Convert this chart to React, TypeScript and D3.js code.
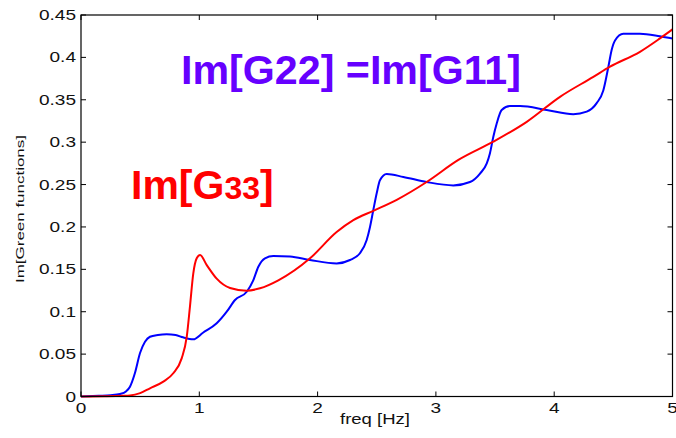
import React from "react";
import * as d3 from "d3";

const xTicks = [0, 1, 2, 3, 4, 5];
const yTicks = [0, 0.05, 0.1, 0.15, 0.2, 0.25, 0.3, 0.35, 0.4, 0.45];
const yTickLabels = ["0", "0.05", "0.1", "0.15", "0.2", "0.25", "0.3", "0.35", "0.4", "0.45"];

const blueX = [0, 0.15, 0.25, 0.33, 0.38, 0.414, 0.456, 0.499, 0.541, 0.583, 0.65, 0.724, 0.8, 0.862, 0.949, 1.031, 1.147, 1.232, 1.302, 1.401, 1.456, 1.499, 1.555, 1.626, 1.767, 1.936, 2.161, 2.274, 2.358, 2.415, 2.443, 2.471, 2.5, 2.527, 2.584, 2.725, 2.922, 3.147, 3.288, 3.373, 3.43, 3.457, 3.485, 3.514, 3.556, 3.626, 3.711, 3.937, 4.161, 4.275, 4.359, 4.415, 4.458, 4.486, 4.514, 4.584, 4.725, 4.894, 5.0];
const blueY = [0, 0.0008, 0.0015, 0.003, 0.006, 0.0116, 0.0277, 0.0513, 0.0646, 0.0705, 0.0725, 0.0733, 0.0725, 0.0698, 0.0675, 0.0752, 0.0863, 0.1, 0.1138, 0.1236, 0.137, 0.153, 0.163, 0.1657, 0.165, 0.161, 0.157, 0.161, 0.169, 0.1846, 0.2, 0.22, 0.24, 0.255, 0.2624, 0.259, 0.253, 0.249, 0.253, 0.263, 0.275, 0.287, 0.306, 0.322, 0.338, 0.3426, 0.3426, 0.338, 0.333, 0.336, 0.346, 0.361, 0.389, 0.409, 0.42, 0.428, 0.428, 0.425, 0.4224];

const redX = [0, 0.2, 0.35, 0.414, 0.5, 0.583, 0.696, 0.78, 0.851, 0.894, 0.921, 0.949, 0.978, 1.006, 1.063, 1.147, 1.26, 1.401, 1.513, 1.668, 1.936, 2.161, 2.302, 2.471, 2.669, 2.922, 3.19, 3.485, 3.768, 4.049, 4.331, 4.472, 4.725, 4.894, 5.0];
const redY = [0, 0.0003, 0.0008, 0.0012, 0.004, 0.0097, 0.0175, 0.0274, 0.045, 0.0705, 0.106, 0.145, 0.163, 0.1669, 0.155, 0.139, 0.128, 0.1248, 0.1276, 0.137, 0.163, 0.194, 0.208, 0.219, 0.232, 0.253, 0.279, 0.3005, 0.324, 0.3535, 0.377, 0.389, 0.4066, 0.4224, 0.433];

const W = 676;
const H = 438;
const L = 81, R = 672.5, T = 15, B = 396.5;
const FONT = "Liberation Sans, Arial, sans-serif";

export default function App() {
  const x = d3.scaleLinear().domain([0, 5]).range([L, R]);
  const y = d3.scaleLinear().domain([0, 0.45]).range([B, T]);
  const line = d3
    .line<[number, number]>()
    .x((d) => x(d[0]))
    .y((d) => y(d[1]))
    .curve(d3.curveMonotoneX);
  const blue = blueX.map((v, i) => [v, blueY[i]] as [number, number]);
  const red = redX.map((v, i) => [v, redY[i]] as [number, number]);
  const sx = 1.36;

  return (
    <svg
      width={W}
      height={H}
      style={{ position: "absolute", left: 0, top: 0, background: "#fff" }}
      fontFamily={FONT}
    >
      <rect x={0} y={0} width={W} height={H} fill="#fff" />
      <path d={line(blue) || ""} fill="none" stroke="#0000ff" strokeWidth={2} />
      <path d={line(red) || ""} fill="none" stroke="#ff0000" strokeWidth={2} />
      <rect x={L} y={T} width={R - L} height={B - T} fill="none" stroke="#000" strokeWidth={1.2} />
      {xTicks.map((t) => (
        <g key={"x" + t}>
          <line x1={x(t)} x2={x(t)} y1={B} y2={B - 5} stroke="#000" />
          <line x1={x(t)} x2={x(t)} y1={T} y2={T + 5} stroke="#000" />
          <text
            transform={`translate(${x(t)},${B + 16}) scale(${sx},1)`}
            textAnchor="middle"
            fontSize={14}
            fill="#111"
          >
            {t}
          </text>
        </g>
      ))}
      {yTicks.map((t, i) => (
        <g key={"y" + t}>
          <line x1={L} x2={L + 5} y1={y(t)} y2={y(t)} stroke="#000" />
          <line x1={R} x2={R - 5} y1={y(t)} y2={y(t)} stroke="#000" />
          <text
            transform={`translate(76,${y(t) + 5}) scale(${sx},1)`}
            textAnchor="end"
            fontSize={14}
            fill="#111"
          >
            {yTickLabels[i]}
          </text>
        </g>
      ))}
      <text
        x={375}
        y={423.5}
        textAnchor="middle"
        fontSize={14}
        textLength={70}
        lengthAdjust="spacingAndGlyphs"
        fill="#111"
      >
        freq [Hz]
      </text>
      <text
        transform="translate(24,209) rotate(-90)"
        textAnchor="middle"
        fontSize={11}
        textLength={148}
        lengthAdjust="spacingAndGlyphs"
        fill="#111"
      >
        Im[Green functions]
      </text>
      <text
        x={181}
        y={83.5}
        fontSize={41}
        fontWeight="bold"
        fill="#6600ff"
        textLength={340}
        lengthAdjust="spacingAndGlyphs"
      >
        Im[G22] =Im[G11]
      </text>
      <text x={131} y={198.5} fontSize={41} fontWeight="bold" fill="#ff0000">
        Im[G<tspan fontSize={32}>33</tspan>]
      </text>
    </svg>
  );
}
